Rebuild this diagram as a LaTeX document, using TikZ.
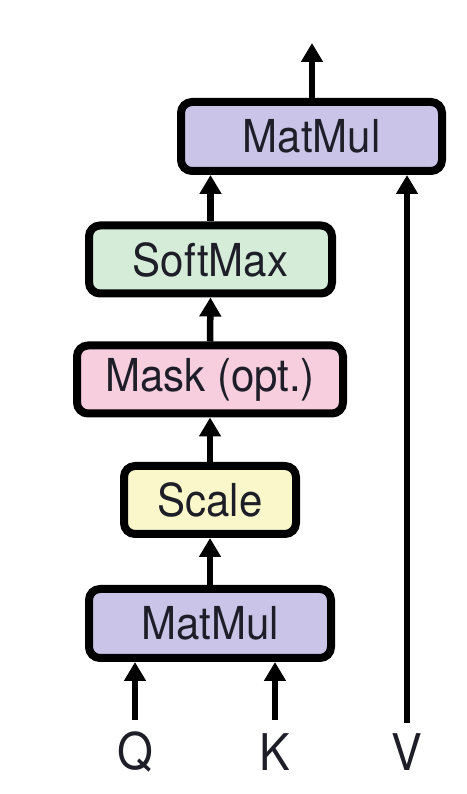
\documentclass[tikz,border=0pt]{standalone}
\usepackage{fontspec}
\setmainfont{TeX Gyre Heros}
\usetikzlibrary{arrows.meta}
\definecolor{mmfill}{RGB}{202,197,232}
\definecolor{smfill}{RGB}{212,236,216}
\definecolor{mkfill}{RGB}{246,206,222}
\definecolor{scfill}{RGB}{250,248,202}
\definecolor{txt}{RGB}{30,30,40}
\tikzset{
  opbox/.style={draw=black, line width=8pt, rounded corners=11pt, inner sep=0pt,
    minimum height=68pt, text=txt, font=\fontsize{42}{50}\selectfont},
  flow/.style={line width=6.5pt, -{Triangle[width=21pt,length=19pt]}},
  plain/.style={line width=6.5pt},
  lab/.style={text=txt, inner sep=0pt, font=\fontsize{46}{50}\selectfont}
}
\begin{document}
\begin{tikzpicture}[x=1pt,y=1pt]
\useasboundingbox[fill=white] (0,0) rectangle (466,794);
\node[opbox, fill=mmfill, minimum width=261pt, minimum height=69pt] (mm2) at (311.5,657.5) {\scalebox{1}[1.08]{MatMul}};
\node[opbox, fill=smfill, minimum width=243pt] (sm) at (210.5,534.5) {\scalebox{1}[1.08]{SoftMax}};
\node[opbox, fill=mkfill, minimum width=266pt] (mk) at (210,414.5) {\scalebox{1}[1.08]{Mask (opt.)}};
\node[opbox, fill=scfill, minimum width=172pt] (sc) at (210,294) {\scalebox{1}[1.08]{Scale}};
\node[opbox, fill=mmfill, minimum width=242pt, minimum height=69pt] (mm1) at (210,170.5) {\scalebox{1}[1.08]{MatMul}};
\node[lab] (q) at (135,42) {\scalebox{1}[1.1]{Q}};
\node[lab] (k) at (275,42) {\scalebox{1}[1.1]{K}};
\node[lab] (v) at (407,42) {\scalebox{1}[1.1]{V}};
\coordinate (qs) at (135,74);
\coordinate (ks) at (275,74);
\coordinate (vs) at (407,71);
\coordinate (out) at (312,751);
\draw[flow] (qs) -- (qs |- mm1.south);
\draw[flow] (ks) -- (ks |- mm1.south);
\draw[flow] (mm1.north) -- (sc.south);
\draw[flow] (sc.north) -- (mk.south);
\draw[flow] (mk.north) -- (sm.south);
\draw[flow] (sm.north) -- (sm.north |- mm2.south);
\draw[flow] (vs) -- (vs |- mm2.south);
\draw[flow] (out |- mm2.north) -- (out);
\end{tikzpicture}
\end{document}
